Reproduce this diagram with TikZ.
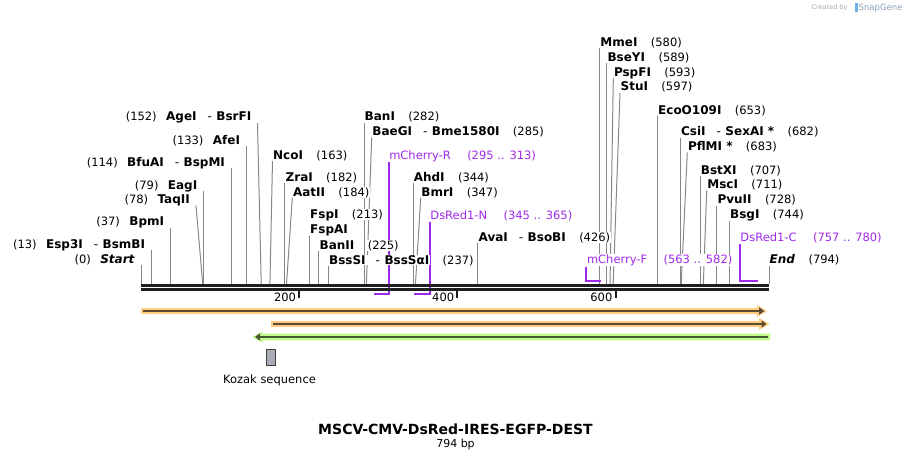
\documentclass[tikz,border=0pt]{standalone}
\usepackage{fontspec}
\setmainfont{DejaVu Sans}
\usetikzlibrary{positioning,backgrounds,arrows.meta}

\definecolor{primerpurple}{RGB}{160,40,235}
\definecolor{sitegray}{RGB}{135,135,135}
\definecolor{featorange}{RGB}{255,206,130}
\definecolor{featgreen}{RGB}{192,250,135}
\definecolor{darkonorange}{RGB}{92,75,50}
\definecolor{darkongreen}{RGB}{70,88,50}
\definecolor{kozakgray}{RGB}{168,172,180}
\definecolor{snapblue}{RGB}{110,175,230}

\tikzset{
  enz/.style={font=\fontsize{12}{14}\selectfont\bfseries, fill=white, inner sep=0.5pt},
  num/.style={font=\fontsize{11.5}{13}\selectfont, fill=white, inner sep=0.5pt},
  prim/.style={font=\fontsize{11.5}{13}\selectfont, text=primerpurple, fill=white, inner sep=0.5pt},
  cut/.style={draw=sitegray, line width=1pt},
  primerline/.style={draw=primerpurple, line width=2pt},
  seqbar/.style={draw=black!88, line width=3pt},
}

% position in bp -> x on the map
\def\bpx#1{141+0.790932*#1}
\newcommand\dsh{\hspace{11pt}{\mdseries -}\hspace{4.5pt}}

% enzyme, label to the right of its line
\newcommand\enzR[6]{%
  \node[enz, anchor=base west] (#1) at ({#2},#3) {#4};
  \node[num, anchor=base west] (#1n) at ([xshift=12pt]#1.base east) {#5};
  \coordinate (c#1) at ({\bpx{#6}},284);
  \begin{scope}[on background layer]
    \draw[cut] ([yshift=-2pt]#1.base west) -- (c#1);
  \end{scope}}
% enzyme, label to the left of its line
\newcommand\enzL[6]{%
  \node[enz, anchor=base east] (#1) at ({#2},#3) {#4};
  \node[num, anchor=base east] (#1n) at ([xshift=-8pt]#1.base west) {#5};
  \coordinate (c#1) at ({\bpx{#6}},284);
  \begin{scope}[on background layer]
    \draw[cut] ([xshift=5.5pt,yshift=-2pt]#1.base east) -- (c#1);
  \end{scope}}
% primer
\newcommand\primer[7]{%
  \node[prim, anchor=base west] (#1) at ({#2},#3) {#4};
  \node[prim, anchor=base west] (#1n) at ([xshift=15pt]#1.base east) {#5};
  \coordinate (e#1) at ({#6},#7);
  \begin{scope}[on background layer]
    \draw[primerline] ([yshift=-3pt]#1.base west) |- (e#1);
  \end{scope}}

\begin{document}
\begin{tikzpicture}[x=1pt,y=-1pt]
  \useasboundingbox (0,0) rectangle (911,460);

  %%% sequence bar
  \draw[seqbar] (141,285.5) -- (769,285.5);
  \draw[seqbar] (141,289.5) -- (769,289.5);
  \foreach \t in {200,400,600}{
    \draw[line width=2pt, black!88] ({\bpx{\t}},291) -- ({\bpx{\t}},298);
    \node[num, fill=none, anchor=base east] (tick\t) at ({\bpx{\t}-2.5},301.5) {\t};
  }

  %%% enzymes, left side
  \enzL{Start}{\bpx{0}-5.5}{263.3}{\textit{Start}}{(0)}{0}
  \enzL{Esp3I}{\bpx{13}-5.5}{248.3}{Esp3I\dsh BsmBI}{(13)}{13}
  \enzL{BpmI}{\bpx{37}-5.5}{225.7}{BpmI}{(37)}{37}
  \enzL{TaqII}{190.5}{203.3}{TaqII}{(78)}{78}
  \enzL{EagI}{\bpx{79}-5.5}{189}{EagI}{(79)}{79}
  \enzL{BfuAI}{\bpx{114}-5.5}{166}{BfuAI\dsh BspMI}{(114)}{114}
  \enzL{AfeI}{\bpx{133}-5.5}{144}{AfeI}{(133)}{133}
  \enzL{AgeI}{252}{121}{AgeI\dsh BsrFI}{(152)}{152}

  %%% enzymes, right side
  \enzR{NcoI}{272.5}{159}{NcoI}{(163)}{163}
  \enzR{ZraI}{\bpx{182}}{181}{ZraI}{(182)}{182}
  \enzR{AatII}{292.3}{196}{AatII}{(184)}{184}
  \node[enz, anchor=base west] (FspI) at ({\bpx{213}},218) {FspI};
  \node[num, anchor=base west] (FspIn) at ([xshift=12pt]FspI.base east) {(213)};
  \node[enz, anchor=base west] (FspAI) at ({\bpx{213}},233.5) {FspAI};
  \coordinate (cFspAI) at ({\bpx{213}},284);
  \begin{scope}[on background layer]
    \draw[cut] ([yshift=-2pt]FspAI.base west) -- (cFspAI);
  \end{scope}
  \enzR{BanII}{\bpx{225}}{249}{BanII}{(225)}{225}
  \enzR{BssSI}{\bpx{237}}{264}{BssSI\hspace{10pt}{\mdseries -}\hspace{4.5pt}BssSαI}{(237)}{237}
  \enzR{BanI}{\bpx{282}}{121}{BanI}{(282)}{282}
  \enzR{BaeGI}{371.7}{135.5}{BaeGI\dsh Bme1580I}{(285)}{285}
  \enzR{AhdI}{\bpx{344}}{181}{AhdI}{(344)}{344}
  \enzR{BmrI}{420.7}{196}{BmrI}{(347)}{347}
  \enzR{AvaI}{\bpx{426}}{241}{AvaI\dsh BsoBI}{(426)}{426}
  \enzR{MmeI}{\bpx{580}}{46.3}{MmeI}{(580)}{580}
  \enzR{BseYI}{\bpx{589}}{61.3}{BseYI}{(589)}{589}
  \enzR{PspFI}{613.3}{76.3}{PspFI}{(593)}{593}
  \enzR{StuI}{620}{91}{StuI}{(597)}{597}
  \enzR{EcoO}{\bpx{653}}{114}{EcoO109I}{(653)}{653}
  \enzR{CsiI}{\bpx{682}}{135.5}{CsiI\dsh SexAI *}{(682)}{682}
  \enzR{PflMI}{687.3}{150.5}{PflMI *}{(683)}{683}
  \enzR{BstXI}{\bpx{707}}{174}{BstXI}{(707)}{707}
  \enzR{MscI}{706.7}{188.3}{MscI}{(711)}{711}
  \enzR{PvuII}{\bpx{728}}{203.5}{PvuII}{(728)}{728}
  \enzR{BsgI}{\bpx{744}}{218.5}{BsgI}{(744)}{744}
  \enzR{End}{\bpx{794}}{263.5}{\textit{End}}{(794)}{794}

  %%% primers
  \primer{mCherryR}{\bpx{313}}{159}{mCherry-R}{(295 .. 313)}{\bpx{295}}{293.5}
  \primer{DsRedN}{\bpx{365}}{219}{DsRed1-N}{(345 .. 365)}{\bpx{345}}{293.5}
  \primer{mCherryF}{\bpx{563}}{263.5}{mCherry-F}{(563 .. 582)}{\bpx{582}}{281}
  \primer{DsRedC}{\bpx{757}}{241.3}{DsRed1-C}{(757 .. 780)}{\bpx{780}}{281}

  %%% features
  \fill[featorange] (141,308) -- (757,308) -- (757,305) -- (767,311) -- (757,317) -- (757,314) -- (141,314) -- cycle;
  \draw[darkonorange, line width=2pt, -{Triangle[length=5.5pt,width=7pt]}] (143,311) -- (764.5,311);
  \fill[featorange] (271,321) -- (759,321) -- (759,318) -- (769.5,324) -- (759,330) -- (759,327) -- (271,327) -- cycle;
  \draw[darkonorange, line width=2pt, -{Triangle[length=5pt,width=7pt]}] (273,324) -- (766.5,324);
  \fill[featgreen] (770,333.7) -- (262,333.7) -- (262,331.5) -- (252.5,337) -- (262,342.5) -- (262,340.3) -- (770,340.3) -- cycle;
  \draw[darkongreen, line width=2pt, -{Triangle[length=5pt,width=7pt]}] (768,337) -- (255,337);

  \node[draw=black!75, fill=kozakgray, line width=1pt, inner sep=0pt, minimum width=8.5pt, minimum height=16pt, anchor=north west] (kozak) at (266.3,349.3) {};
  \node[font=\fontsize{11.5}{13}\selectfont, anchor=base] (kozaklbl) at (269.5,383) {Kozak sequence};

  %%% title
  \node[font=\fontsize{14}{16}\selectfont\bfseries] (title) at (455.5,429) {MSCV-CMV-DsRed-IRES-EGFP-DEST};
  \node[font=\fontsize{11}{13}\selectfont] (length) at (455.5,444.5) {794 bp};

  %%% credit
  \node[font=\fontsize{6.5}{8}\selectfont, text=black!35, anchor=base east] (credit) at (851,10) {Created by};
  \fill[snapblue] (855,3) rectangle (857.5,12);
  \node[font=\fontsize{8.5}{10}\selectfont, text={rgb,255:red,140;green,158;blue,182}, anchor=base east] (snapgene) at (906,11) {SnapGene};
\end{tikzpicture}
\end{document}
